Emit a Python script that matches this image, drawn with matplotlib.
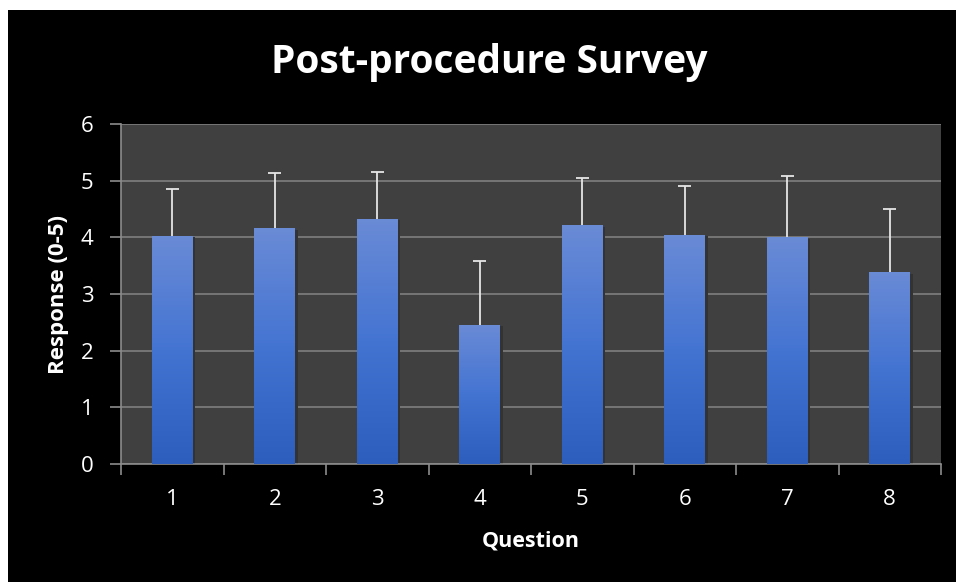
import numpy as np
import matplotlib
matplotlib.use('Agg')
import matplotlib.pyplot as plt
from matplotlib.patches import Rectangle
from matplotlib.colors import LinearSegmentedColormap

questions = ['1', '2', '3', '4', '5', '6', '7', '8']
means = [4.03, 4.16, 4.33, 2.46, 4.21, 4.05, 4.00, 3.39]
upper = [4.86, 5.13, 5.15, 3.59, 5.04, 4.90, 5.08, 4.50]

plt.rcParams['font.family'] = ['Open Sans', 'DejaVu Sans']

fig = plt.figure(figsize=(9.56, 5.82), dpi=100)
fig.patch.set_facecolor('white')
# black slide area (small white margin top/left like the screenshot)
fig.patches.append(Rectangle((8/956, -0.01), 1, (582-10)/582 + 0.01, transform=fig.transFigure,
                             facecolor='black', edgecolor='none', zorder=-10))

ax = fig.add_axes([121/956, 1 - 464/582, (941-121)/956, (464-124)/582])
ax.set_facecolor('#404040')

x = np.arange(len(questions))
w = 0.4
grad = LinearSegmentedColormap.from_list('g', ['#2d5dbd', '#4474d2', '#6a8bd6'])
bars = ax.bar(x, means, width=w, color='none', edgecolor='none', zorder=3)
for b in bars:
    x0, y0 = b.get_x(), b.get_y()
    bw, bh = b.get_width(), b.get_height()
    # soft shadow
    ax.add_patch(Rectangle((x0 + 0.015, y0), bw + 0.01, bh - 0.03, facecolor='#333333',
                           edgecolor='none', zorder=2))
    img = ax.imshow(np.linspace(0, 1, 256).reshape(-1, 1), cmap=grad, aspect='auto',
                    extent=(x0, x0 + bw, y0, y0 + bh), origin='lower', zorder=3)
    img.set_clip_path(b)

# upper error bars only
ax.vlines(x, means, upper, color='#e6e6e6', linewidth=1.3, zorder=4)
ax.hlines(upper, x - 0.063, x + 0.063, color='#e6e6e6', linewidth=1.3, zorder=4)

ax.set_xlim(-0.5, len(questions) - 0.5)
ax.set_ylim(0, 6)
ax.set_yticks(range(7))
ax.yaxis.grid(True, color='#7f7f7f', linewidth=1.2, zorder=0)
ax.set_axisbelow(True)

ax.set_xticks(x)
ax.set_xticklabels(questions)
ax.set_xticks(np.arange(-0.5, len(questions)), minor=True)
ax.tick_params(axis='x', which='major', length=0, pad=18, labelsize=16, labelcolor='white')
ax.tick_params(axis='x', which='minor', length=8, color='#8c8c8c', width=1.2)
ax.tick_params(axis='y', length=8, color='#8c8c8c', width=1.2, labelsize=16,
               labelcolor='white', pad=12)

for s in ['top', 'right']:
    ax.spines[s].set_visible(False)
for s in ['left', 'bottom']:
    ax.spines[s].set_color('#8c8c8c')
    ax.spines[s].set_linewidth(1.2)

ax.set_xlabel('Question', color='white', fontsize=15.5, fontweight='bold', labelpad=15)
ax.set_ylabel('Response (0-5)', color='white', fontsize=16, fontweight='bold', labelpad=8)
fig.text(489/956, 1 - 73/582, 'Post-procedure Survey', color='white', fontsize=28,
         fontweight='bold', ha='center', va='baseline')

fig.savefig('out.png', dpi=100, facecolor=fig.get_facecolor())
